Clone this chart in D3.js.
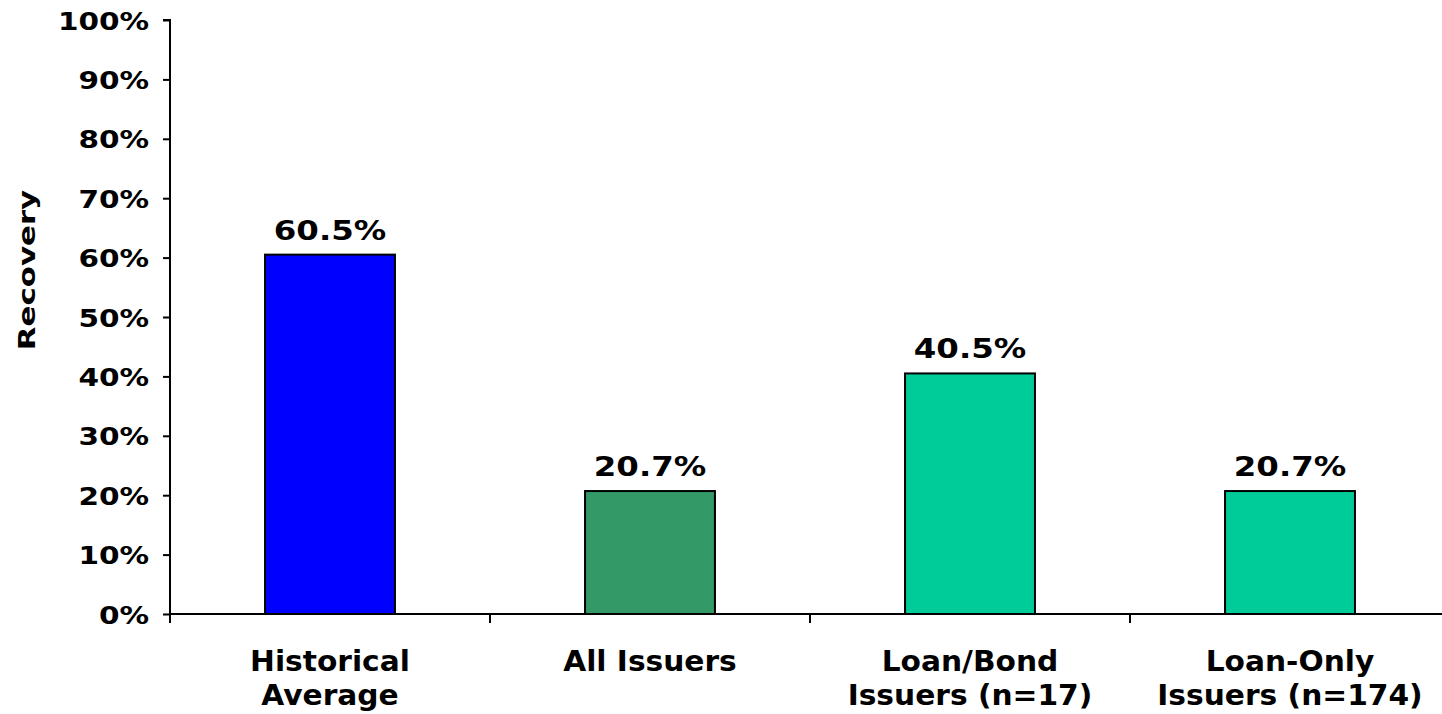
<!DOCTYPE html>
<html><head><meta charset="utf-8">
<script src="https://cdn.jsdelivr.net/npm/d3@7"></script>
<style>
html,body{margin:0;padding:0;background:#fff;}
svg text{font-family:"DejaVu Sans",Verdana,sans-serif;font-weight:bold;fill:#000;}
</style></head>
<body>
<svg id="chart" width="1442" height="714"></svg>
<script>
const categories = [["Historical","Average"],["All Issuers"],["Loan/Bond","Issuers (n=17)"],["Loan-Only","Issuers (n=174)"]];
const values = [60.5, 20.7, 40.5, 20.7];
const valueLabels = ["60.5%","20.7%","40.5%","20.7%"];
const colors = ["#0000FF","#339966","#00CC99","#00CC99"];
const yTicks = [0,10,20,30,40,50,60,70,80,90,100];
const yTitle = "Recovery";

(function(){
const svg = d3.select("#chart");
const mLeft = 170, mRight = 1450, mTop = 20, mBottom = 614;

const x = d3.scaleBand().domain(d3.range(categories.length)).range([mLeft, mRight]).paddingInner(0).paddingOuter(0);
const y = d3.scaleLinear().domain([0, 100]).range([mBottom, mTop]);
const barW = x.bandwidth() * 0.406;

function stretch(k){
  return function(sel){
    sel.each(function(){
      const l = this.getComputedTextLength();
      if (l > 0) { this.setAttribute("textLength", l * k); this.setAttribute("lengthAdjust", "spacingAndGlyphs"); }
    });
  };
}

// bars
svg.append("g").selectAll("rect").data(values).join("rect")
  .attr("x", (d,i) => x(i) + x.bandwidth()/2 - barW/2)
  .attr("y", d => y(d))
  .attr("width", barW)
  .attr("height", d => y(0) - y(d))
  .attr("fill", (d,i) => colors[i])
  .attr("stroke", "#000").attr("stroke-width", 2);

// value labels
svg.append("g").selectAll("text").data(values).join("text")
  .attr("x", (d,i) => x(i) + x.bandwidth()/2)
  .attr("y", d => y(d) - 15)
  .attr("text-anchor", "middle")
  .style("font-size", "27px")
  .text((d,i) => valueLabels[i])
  .call(stretch(1.2));

// y axis
const yAxis = svg.append("g").attr("transform", `translate(${mLeft},0)`)
  .call(d3.axisLeft(y).tickValues(yTicks).tickFormat(d => d + "%").tickSize(7).tickPadding(14));
yAxis.attr("font-family", null).attr("font-size", null);
yAxis.select(".domain").attr("stroke", "#000").attr("stroke-width", 2).attr("d", `M-7,${mTop}H0V${mBottom}`);
yAxis.selectAll(".tick line").attr("stroke", "#000").attr("stroke-width", 2);
yAxis.selectAll(".tick text").style("font-size", "25px").attr("dy", "0.36em").call(stretch(1.18));

// x axis
const xAxisG = svg.append("g").attr("transform", `translate(0,${mBottom})`);
xAxisG.append("line").attr("x1", mLeft).attr("x2", 1442).attr("y1", 0).attr("y2", 0).attr("stroke", "#000").attr("stroke-width", 2);
const boundaries = d3.range(categories.length + 1).map(i => i < categories.length ? x(i) : x(i-1) + x.bandwidth());
xAxisG.selectAll("line.tk").data(boundaries).join("line").attr("class","tk")
  .attr("x1", d => d).attr("x2", d => d).attr("y1", 0).attr("y2", 9)
  .attr("stroke", "#000").attr("stroke-width", 2);

const xl = svg.append("g").selectAll("text").data(categories).join("text")
  .attr("text-anchor", "middle")
  .style("font-size", "28px");
xl.each(function(lines, i){
  const t = d3.select(this);
  lines.forEach((ln, j) => {
    t.append("tspan").attr("x", x(i) + x.bandwidth()/2).attr("y", 671 + j*34).text(ln);
  });
});
xl.selectAll("tspan").call(stretch(1.06));

// y title
svg.append("text")
  .attr("transform", `translate(35,270) rotate(-90)`)
  .attr("text-anchor", "middle")
  .style("font-size", "23px")
  .text(yTitle)
  .call(stretch(1.34));
})();
</script>
</body></html>
